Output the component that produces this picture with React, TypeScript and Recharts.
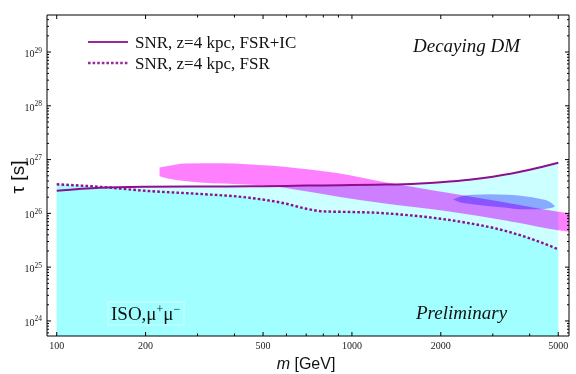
import React from 'react';
import { ComposedChart, Area, Line, XAxis, YAxis } from 'recharts';

// curves (m in GeV, tau in s)
const masses = [100, 140, 200, 300, 450, 600, 700, 800, 1000, 1200, 1500, 2000, 2500, 3000, 4000, 5000];
const tauFsrIc = [2.63e26, 2.99e26, 3.12e26, 3.16e26, 3.19e26, 3.24e26, 3.29e26, 3.3e26, 3.36e26, 3.41e26, 3.47e26, 3.79e26, 4.21e26, 4.79e26, 6.46e26, 8.73e26];
const tauFsr = [3.47e26, 3.12e26, 2.63e26, 2.31e26, 1.95e26, 1.51e26, 1.22e26, 1.09e26, 1.06e26, 1.03e26, 9.42e25, 7.94e25, 6.55e25, 5.4e25, 3.44e25, 2.15e25];

// magenta band
const bandMass = [223, 238, 271, 365, 440, 540, 665, 910, 1240, 2110, 3580, 5000, 5440];
const bandHigh = [7.1e26, 7.6e26, 8.43e26, 8.54e26, 8.18e26, 7.67e26, 6.81e26, 5.5e26, 3.95e26, 2.42e26, 1.48e26, 1.07e26, 1.0e26];
const bandLow = [4.9e26, 4.44e26, 4.0e26, 3.58e26, 3.43e26, 3.19e26, 2.69e26, 2.02e26, 1.57e26, 1.09e26, 6.84e25, 4.85e25, 4.55e25];

// blue blob
const blobMass = [2210, 2320, 2560, 2930, 3340, 3840, 4320, 4670, 4860];
const blobHigh = [1.83e26, 2.04e26, 2.22e26, 2.27e26, 2.22e26, 2.08e26, 1.87e26, 1.64e26, 1.38e26];
const blobLow = [1.79e26, 1.61e26, 1.48e26, 1.36e26, 1.27e26, 1.19e26, 1.19e26, 1.24e26, 1.33e26];

// axes
const xDomain = [92.7, 5436];
const yDomain = [5.25e23, 4.88e29];
const xTickValues = [100, 200, 300, 400, 500, 600, 700, 800, 900, 1000, 2000, 3000, 4000, 5000];
const xTickLabels = [100, 200, 500, 1000, 2000, 5000];
const yExponents = [23, 24, 25, 26, 27, 28, 29];
const yLabelExponents = [24, 25, 26, 27, 28, 29];
const yMultipliers = [1, 2, 3, 4, 5, 6, 7, 8, 9];

const yTickValues: number[] = [];
yExponents.forEach((e) =>
  yMultipliers.forEach((k) => {
    const v = k * Math.pow(10, e);
    if (v >= yDomain[0] && v <= yDomain[1]) yTickValues.push(v);
  })
);

const curveData = masses.map((m, i) => ({ m, ic: tauFsrIc[i], fsr: tauFsr[i] }));
const bandData = bandMass.map((m, i) => ({ m, r: [bandLow[i], bandHigh[i]] }));
const blobData = blobMass.map((m, i) => ({ m, r: [blobLow[i], blobHigh[i]] }));

const serif = 'Liberation Serif, serif';
const sans = 'Liberation Sans, Arial, sans-serif';
const purple = '#8e0e8e';

const XTick = (props: any) => {
  const { x, y, payload, top } = props;
  const v = payload.value;
  const major = xTickLabels.includes(v);
  const len = major ? 4 : 2.5;
  const dir = top ? 1 : -1;
  return (
    <g>
      <line x1={x} x2={x} y1={y} y2={y + dir * len} stroke="#000" strokeWidth={1} />
      {!top && major && (
        <text x={x} y={y + 13} textAnchor="middle" fontSize={10} fontFamily={serif} fill="#222">
          {v}
        </text>
      )}
    </g>
  );
};

const YTick = (props: any) => {
  const { x, y, payload, right } = props;
  const v = payload.value;
  const e = Math.round(Math.log10(v));
  const major = Math.abs(Math.log10(v) - e) < 1e-6;
  const len = major ? 4 : 2;
  const dir = right ? -1 : 1;
  return (
    <g>
      <line x1={x} x2={x + dir * len} y1={y} y2={y} stroke="#000" strokeWidth={1} />
      {!right && major && yLabelExponents.includes(e) && (
        <text x={x - 5} y={y + 5} textAnchor="end" fontSize={10} fontFamily={serif} fill="#222">
          10
          <tspan dy={-4.5} fontSize={7.5}>
            {e}
          </tspan>
        </text>
      )}
    </g>
  );
};

const axisCommon = {
  type: 'number' as const,
  scale: 'log' as const,
  allowDataOverflow: true,
  interval: 0 as const,
  tickLine: false,
  tickSize: 0,
  tickMargin: 0,
  axisLine: { stroke: '#000' },
};

const App = () => {
  return (
    <div style={{ position: 'absolute', left: 0, top: 0, width: 576, height: 374, background: '#fff' }}>
      <style>{`.blend { mix-blend-mode: multiply; }`}</style>
      <ComposedChart width={576} height={374} margin={{ top: 14, right: 6, bottom: 0, left: 0 }}>
        <XAxis
          {...axisCommon}
          xAxisId="b"
          dataKey="m"
          domain={xDomain}
          ticks={xTickValues}
          tick={<XTick />}
          height={38}
        />
        <XAxis
          {...axisCommon}
          xAxisId="t"
          orientation="top"
          dataKey="m"
          domain={xDomain}
          ticks={xTickValues}
          tick={<XTick top />}
          height={1}
        />
        <YAxis {...axisCommon} yAxisId="l" domain={yDomain} ticks={yTickValues} tick={<YTick />} width={47} />
        <YAxis
          {...axisCommon}
          yAxisId="r"
          orientation="right"
          domain={yDomain}
          ticks={yTickValues}
          tick={<YTick right />}
          width={1}
        />
        <Area
          xAxisId="b"
          yAxisId="l"
          data={curveData}
          dataKey="ic"
          type="monotone"
          baseValue="dataMin"
          fill="#ccffff"
          fillOpacity={1}
          stroke="none"
          isAnimationActive={false}
        />
        <Area
          xAxisId="b"
          yAxisId="l"
          data={curveData}
          dataKey="fsr"
          type="monotone"
          baseValue="dataMin"
          fill="#a2ffff"
          fillOpacity={1}
          stroke="none"
          isAnimationActive={false}
        />
        <Area
          className="blend"
          xAxisId="b"
          yAxisId="l"
          data={bandData}
          dataKey="r"
          type="monotone"
          fill="#ff80ff"
          fillOpacity={1}
          stroke="none"
          isAnimationActive={false}
        />
        <Area
          className="blend"
          xAxisId="b"
          yAxisId="l"
          data={blobData}
          dataKey="r"
          type="monotone"
          fill="#aaaaff"
          fillOpacity={1}
          stroke="none"
          isAnimationActive={false}
        />
        <Line
          xAxisId="b"
          yAxisId="l"
          data={curveData}
          dataKey="ic"
          type="monotone"
          stroke={purple}
          strokeWidth={2}
          dot={false}
          isAnimationActive={false}
        />
        <Line
          xAxisId="b"
          yAxisId="l"
          data={curveData}
          dataKey="fsr"
          type="monotone"
          stroke={purple}
          strokeWidth={2.4}
          strokeDasharray="2.6 2.2"
          dot={false}
          isAnimationActive={false}
        />
        {/* invisible series so the mirrored top/right frame axes get drawn */}
        <Line
          xAxisId="t"
          yAxisId="r"
          data={curveData}
          dataKey="ic"
          stroke="none"
          dot={false}
          legendType="none"
          isAnimationActive={false}
        />
      </ComposedChart>
      <svg
        width={576}
        height={374}
        style={{ position: 'absolute', left: 0, top: 0, pointerEvents: 'none' }}
      >
        <line x1={88} x2={128} y1={42} y2={42} stroke="#9a2a9a" strokeWidth={2} />
        <text x={135} y={48} fontSize={17} fontFamily={serif} fill="#111">
          SNR, z=4 kpc, FSR+IC
        </text>
        <line x1={88} x2={128} y1={63} y2={63} stroke="#9a2a9a" strokeWidth={2.4} strokeDasharray="2.6 2" />
        <text x={135} y={69} fontSize={17} fontFamily={serif} fill="#111">
          SNR, z=4 kpc, FSR
        </text>
        <text x={413} y={52} fontSize={19} fontStyle="italic" fontFamily={serif} fill="#111">
          Decaying DM
        </text>
        <rect x={108} y={302} width={76} height={23} fill="none" stroke="#d2ffff" strokeWidth={1} />
        <text x={111} y={320} fontSize={19} fontFamily={serif} fill="#111">
          ISO,μ<tspan dy={-7} fontSize={12}>+</tspan>
          <tspan dy={7}>μ</tspan>
          <tspan dy={-7} fontSize={12}>−</tspan>
        </text>
        <text x={416} y={319} fontSize={19} fontStyle="italic" fontFamily={serif} fill="#111">
          Preliminary
        </text>
        <text x={306} y={369} textAnchor="middle" fontSize={16} fontFamily={sans} fill="#111">
          <tspan fontStyle="italic">m</tspan> [GeV]
        </text>
        <text
          x={0}
          y={0}
          transform="translate(24,177) rotate(-90)"
          textAnchor="middle"
          fontSize={19}
          fontFamily={sans}
          fill="#111"
        >
          τ [s]
        </text>
      </svg>
    </div>
  );
};

export default App;
